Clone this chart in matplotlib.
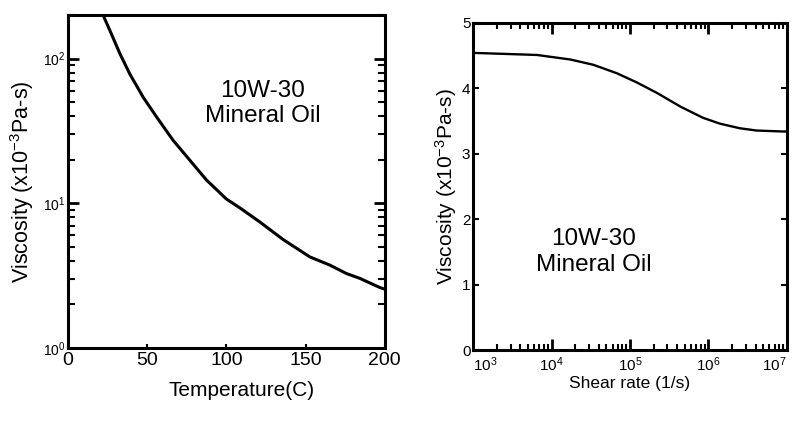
import matplotlib.pyplot as plt
from matplotlib.ticker import FixedLocator, LogLocator, NullFormatter

plt.rcParams['font.family'] = ['Liberation Sans', 'DejaVu Sans']
plt.rcParams['mathtext.fontset'] = 'custom'
plt.rcParams['mathtext.rm'] = 'Liberation Sans'
plt.rcParams['mathtext.it'] = 'Liberation Sans'

# Viscosity vs temperature (log scale)
temp_c = [22.3, 26.5, 32.8, 39.1, 47.5, 56.0, 66.4, 77.0, 87.4, 100.0, 108.5,
          121.1, 135.8, 152.7, 165.3, 175.8, 184.2, 196.8, 200]
visc_temp = [198, 156, 108, 78, 54, 39.4, 27.2, 19.8, 14.5, 10.7, 9.3,
             7.43, 5.62, 4.26, 3.74, 3.27, 3.03, 2.62, 2.55]

# Viscosity vs shear rate
shear_rate = [1.0e3, 1.11e3, 6.5e3, 1.74e4, 3.4e4, 6.8e4, 1.22e5, 2.2e5, 4.4e5,
              8.5e5, 1.4e6, 2.5e6, 4.1e6, 8.9e6, 1.0e7]
visc_shear = [4.54, 4.54, 4.51, 4.44, 4.36, 4.23, 4.09, 3.93, 3.72,
              3.55, 3.46, 3.39, 3.355, 3.34, 3.34]

ylabel = 'Viscosity (x10$^{-3}$Pa-s)'
note = '10W-30\nMineral Oil'

fig = plt.figure(figsize=(7.94, 4.21), dpi=100)

# ---------- left: temperature ----------
ax1 = fig.add_axes([0.0856, 0.1734, 0.399, 0.791])
ax1.semilogy(temp_c, visc_temp, color='black', lw=2.2)
ax1.set_xlim(0, 200)
ax1.set_ylim(1, 200)
ax1.set_xticks([0, 50, 100, 150, 200])
ax1.set_yticks([1, 10, 100])
ax1.set_yticklabels(['10$^0$', '10$^1$', '10$^2$'])
ax1.yaxis.set_minor_locator(LogLocator(base=10, subs=range(2, 10)))
ax1.yaxis.set_minor_formatter(NullFormatter())
ax1.tick_params(axis='x', direction='in', length=3, width=1.5, labelsize=14, pad=3)
ax1.tick_params(axis='y', which='major', direction='in', length=8, width=2, labelsize=10,
                right=True, pad=2)
ax1.tick_params(axis='y', which='minor', direction='in', length=5, width=1.5, right=True)
ax1.set_ylabel(ylabel, fontsize=15.5, labelpad=5)
ax1.set_xlabel('Temperature(C)', fontsize=15)
ax1.xaxis.set_label_coords(0.549, -0.10)
ax1.text(0.615, 0.735, note, transform=ax1.transAxes, ha='center', va='center',
         fontsize=17.5, linespacing=1.2)

# ---------- right: shear rate ----------
ax2 = fig.add_axes([0.596, 0.1686, 0.395, 0.777])
ax2.semilogx(shear_rate, visc_shear, color='black', lw=1.7)
ax2.set_xlim(1e3, 1e7)
ax2.set_ylim(0, 5)
ax2.set_xticks([1e3, 1e4, 1e5, 1e6, 1e7])
ax2.set_xticklabels(['10$^3$', '10$^4$', '10$^5$', '10$^6$', '10$^7$'])
ax2.get_xticklabels()[-1].set_ha('right')
ax2.get_xticklabels()[0].set_ha('left')
ax2.xaxis.set_minor_locator(LogLocator(base=10, subs=range(2, 10)))
ax2.xaxis.set_minor_formatter(NullFormatter())
ax2.yaxis.set_major_locator(FixedLocator([0, 1, 2, 3, 4, 5]))
ax2.tick_params(axis='x', which='major', direction='in', length=8, width=2, labelsize=11,
                top=True, pad=4)
ax2.tick_params(axis='x', which='minor', direction='in', length=4, width=1.5, top=True)
ax2.tick_params(axis='y', direction='in', length=4, width=1.5, labelsize=11, right=True, pad=2)
ax2.set_ylabel(ylabel, fontsize=15, labelpad=2)
ax2.set_xlabel('Shear rate (1/s)', fontsize=12.5, labelpad=1)
ax2.text(0.385, 0.30, note, transform=ax2.transAxes, ha='center', va='center',
         fontsize=17.5, linespacing=1.2)

for ax in (ax1, ax2):
    for s in ax.spines.values():
        s.set_linewidth(2.2)

fig.savefig('out.png', dpi=100)
